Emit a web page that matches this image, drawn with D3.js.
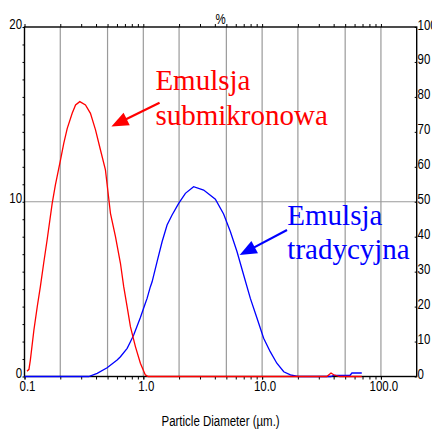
<!DOCTYPE html>
<html>
<head>
<meta charset="utf-8">
<script src="https://cdn.jsdelivr.net/npm/d3@7"></script>
<style>
  body { margin: 0; background: #fff; }
</style>
</head>
<body>
<svg id="chart"></svg>
<script>
// red curve: emulsja submikronowa (diameter um, % volume)
const redD = [0.105, 0.109, 0.112, 0.120, 0.128, 0.136, 0.145, 0.155, 0.171, 0.182, 0.201, 0.214, 0.229, 0.252, 0.269, 0.292, 0.326, 0.359, 0.396, 0.436, 0.480, 0.502, 0.529, 0.583, 0.642, 0.684, 0.731, 0.779, 0.858, 0.945, 1.04, 1.10, 35, 38, 40, 45, 69];
const redV = [0.3, 0.41, 0.94, 2.66, 3.99, 5.14, 6.48, 7.81, 9.91, 10.96, 12.39, 13.34, 14.20, 15.06, 15.54, 15.73, 15.54, 15.06, 14.11, 12.96, 11.82, 10.67, 9.34, 8.00, 6.48, 5.14, 3.99, 2.85, 1.71, 0.76, 0.09, 0, 0, 0.2, 0.1, 0, 0];

// blue curve: emulsja tradycyjna
const blueD = [0.1, 0.347, 0.409, 0.496, 0.602, 0.642, 0.731, 0.779, 0.830, 0.945, 1.04, 1.076, 1.147, 1.186, 1.306, 1.439, 1.585, 1.746, 1.985, 2.26, 2.65, 3.22, 4.04, 4.74, 5.40, 6.15, 6.99, 7.96, 9.06, 10.3, 11.7, 13.3, 15.2, 17.3, 20, 38, 40, 55, 57, 69];
const blueV = [0, 0, 0.18, 0.50, 0.94, 1.13, 1.61, 1.99, 2.37, 3.38, 4.19, 4.47, 5.14, 5.42, 6.57, 7.71, 8.67, 9.24, 9.91, 10.48, 10.86, 10.67, 10.15, 9.3, 8.3, 7.14, 5.81, 4.47, 3.33, 2.19, 1.42, 0.76, 0.27, 0.09, 0, 0, 0.07, 0.07, 0.2, 0.2];

const xLabels = [0.1, 1, 10, 100];
const xGrid = [0.2, 0.5, 1, 2, 5, 10, 20, 50, 100];
const yLabels = [0, 10, 20];
const yRLabels = [0, 10, 20, 30, 40, 50, 60, 70, 80, 90, 100];

// annotation text and arrows, in data units
const notes = [
  {lines: ['Emulsja', 'submikronowa'], x: 1.264, y: [16.39, 14.39], color: '#ff0000'},
  {lines: ['Emulsja', 'tradycyjna'], x: 16.3, y: [8.67, 6.70], color: '#0000ff'}
];
const arrows = [
  {from: [1.37, 15.67], to: [0.539, 14.31], color: '#ff0000'},
  {from: [16.2, 8.38], to: [6.47, 6.95], color: '#0000ff'}
];

let chart = {};
var w = 432, h = 431;
const axisFont = '"Liberation Sans", Arial, sans-serif';
const narrow = 'scale(0.82,1)';   // arial narrow look

chart.svg = d3.select('#chart')
  .attr('width', w)
  .attr('height', h);

chart.x = d3.scaleLog().domain([0.1, 200]).range([24.5, 416.7]);
chart.y = d3.scaleLinear().domain([0, 20]).range([376.5, 27]);
chart.yR = d3.scaleLinear().domain([0, 100]).range([376.5, 27]);

let x0 = chart.x.range()[0], x1 = chart.x.range()[1];
let y0 = chart.y.range()[0], y1 = chart.y.range()[1];

// minor ticks 1..9 per decade up to 100
let minor = [];
[0.1, 1, 10].forEach(dec => { for (let i = 1; i < 10; i++) minor.push(dec * i); });
minor.push(100);

// grid
chart.svg.append('g')
  .selectAll('line')
  .data(xGrid)
  .enter().append('line')
    .attr('x1', d => chart.x(d)).attr('x2', d => chart.x(d))
    .attr('y1', y1).attr('y2', y0)
    .attr('stroke', '#9a9a9a').attr('stroke-width', 1.2);

chart.svg.append('g')
  .append('line')
    .attr('x1', x0).attr('x2', x1)
    .attr('y1', chart.y(10)).attr('y2', chart.y(10))
    .attr('stroke', '#9a9a9a').attr('stroke-width', 1.2);

// axes
let noDomain = g => g.select('.domain').remove();

chart.svg.append('g')
  .attr('transform', 'translate(0,' + y0 + ')')
  .call(d3.axisBottom(chart.x).tickValues(minor).tickSize(3).tickFormat(''))
  .call(noDomain);

let gXL = chart.svg.append('g')
  .attr('transform', 'translate(0,' + y0 + ')')
  .call(d3.axisBottom(chart.x).tickValues(xLabels).tickSize(3).tickPadding(2)
    .tickFormat(d3.format('.1f')))
  .call(noDomain);
gXL.selectAll('text').attr('dx', 3);

chart.svg.append('g')
  .attr('transform', 'translate(0,' + y1 + ')')
  .call(d3.axisTop(chart.x).tickValues(minor).tickSize(3).tickFormat(''))
  .call(noDomain);

let gY = chart.svg.append('g')
  .attr('transform', 'translate(' + x0 + ',0)')
  .call(d3.axisLeft(chart.y).tickValues(d3.range(0, 21)).tickSize(2).tickPadding(1)
    .tickFormat(d => yLabels.includes(d) ? d : ''))
  .call(noDomain);
gY.selectAll('text').attr('dy', '1px');

let gYR = chart.svg.append('g')
  .attr('transform', 'translate(' + x1 + ',0)')
  .call(d3.axisRight(chart.yR).tickValues(yRLabels).tickSizeInner(-2).tickSizeOuter(0).tickPadding(1))
  .call(noDomain);
gYR.selectAll('text').attr('dy', '2px');

chart.svg.selectAll('.tick line').attr('stroke', '#000').attr('stroke-width', 1);
chart.svg.selectAll('.tick text')
  .attr('font-family', axisFont)
  .attr('font-size', 14)
  .attr('fill', '#000')
  .attr('transform', narrow);

// frame
chart.svg.append('rect')
  .attr('x', x0).attr('y', y1)
  .attr('width', x1 - x0).attr('height', y0 - y1)
  .attr('fill', 'none').attr('stroke', '#000').attr('stroke-width', 1.4);

// titles
chart.svg.append('text')
  .attr('transform', 'translate(' + (x0 + x1) / 2 + ',24) ' + narrow)
  .attr('text-anchor', 'middle')
  .attr('font-family', axisFont).attr('font-size', 14)
  .text('%');

chart.svg.append('text')
  .attr('transform', 'translate(' + (x0 + x1) / 2 + ',426) ' + narrow)
  .attr('text-anchor', 'middle')
  .attr('font-family', axisFont).attr('font-size', 14)
  .text('Particle Diameter (\u00b5m.)');

// curves
let line = d3.line()
  .x(d => chart.x(d[0]))
  .y(d => chart.y(d[1]));

chart.svg.append('path')
  .datum(d3.zip(blueD, blueV))
  .attr('d', line)
  .attr('fill', 'none').attr('stroke', '#0000ff').attr('stroke-width', 1.3);

chart.svg.append('path')
  .datum(d3.zip(redD, redV))
  .attr('d', line)
  .attr('fill', 'none').attr('stroke', '#ff0000').attr('stroke-width', 1.3);

// annotations
notes.forEach(n => {
  n.lines.forEach((t, i) => {
    chart.svg.append('text')
      .attr('x', chart.x(n.x)).attr('y', chart.y(n.y[i]))
      .attr('font-family', '"Liberation Serif", "Times New Roman", serif')
      .attr('font-size', 29)
      .attr('fill', n.color)
      .text(t);
  });
});

arrows.forEach(a => {
  let tx = chart.x(a.to[0]), ty = chart.y(a.to[1]);
  let fx = chart.x(a.from[0]), fy = chart.y(a.from[1]);
  let len = Math.hypot(fx - tx, fy - ty);
  let ux = (fx - tx) / len, uy = (fy - ty) / len;
  let headL = 17, headW = 14;
  // shaft stops inside the head
  chart.svg.append('line')
    .attr('x1', fx).attr('y1', fy)
    .attr('x2', tx + ux * 10).attr('y2', ty + uy * 10)
    .attr('stroke', a.color).attr('stroke-width', 2.2);
  let bx = tx + ux * headL, by = ty + uy * headL;
  let px = -uy * headW / 2, py = ux * headW / 2;
  chart.svg.append('path')
    .attr('d', 'M' + tx + ',' + ty + 'L' + (bx + px) + ',' + (by + py) + 'L' + (bx - px) + ',' + (by - py) + 'Z')
    .attr('fill', a.color);
});
</script>
</body>
</html>
